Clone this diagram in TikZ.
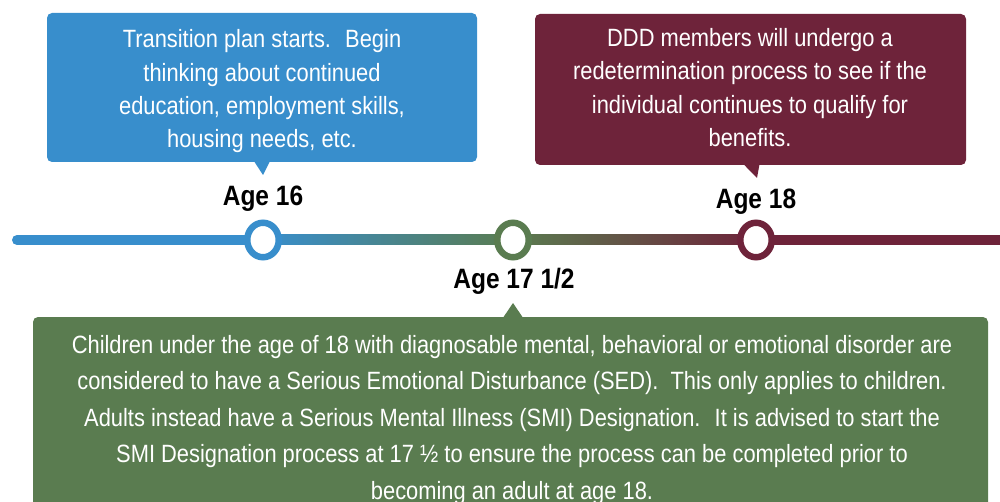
\documentclass[tikz,border=0pt]{standalone}
\usepackage{fontspec}
\setmainfont{Liberation Sans}
\usepackage{graphicx}
\usepackage{tikz}
\usetikzlibrary{shapes.geometric}

\definecolor{blueage}{RGB}{56,142,204}
\definecolor{greenage}{RGB}{90,124,80}
\definecolor{redage}{RGB}{110,35,58}

\newcommand{\squeeze}[1]{\scalebox{0.875}[1]{#1}}

\begin{document}
\begin{tikzpicture}[x=1pt, y=-1pt,
  callout/.style={fill=#1, rounded corners=5pt, inner sep=0pt},
  boxtext/.style={text=white, anchor=base, inner sep=0pt, font=\fontsize{25}{#1}\selectfont},
  agelabel/.style={anchor=base, inner sep=0pt, font=\bfseries\fontsize{28}{30}\selectfont},
  ring/.style={ellipse, draw=#1, fill=white, line width=6.5pt, minimum width=31.5pt, minimum height=34.5pt, inner sep=0pt}]
\useasboundingbox (0,0) rectangle (1000,502);
\clip (0,0) rectangle (1000,502);

\coordinate (start) at (17,240);
\coordinate (end) at (1010,240);
\coordinate (p16) at (263,240);
\coordinate (p17) at (513,240);
\coordinate (p18) at (756,240);

\draw[blueage, line width=10pt, line cap=round] (start) -- (p16);
\shade[left color=blueage, right color=greenage] ([yshift=5pt]p16) rectangle ([yshift=-5pt]p17);
\shade[left color=greenage, right color=redage] ([yshift=5pt]p17) rectangle ([yshift=-5pt]p18);
\draw[redage, line width=10pt] (p18) -- (end);

\node[ring=blueage] (ring16) at (p16) {};
\node[ring=greenage] (ring17) at (p17) {};
\node[ring=redage] (ring18) at (p18) {};

\node[agelabel] (age16) at (263,206) {\squeeze{Age 16}};
\node[agelabel] (age17) at (514,288) {\squeeze{Age 17 1/2}};
\node[agelabel] (age18) at (756,209) {\squeeze{Age 18}};

\node[callout=blueage, minimum width=430pt, minimum height=149pt] (box16) at (262,87.5) {};
\coordinate (tip16) at (263,175);
\fill[blueage] ([xshift=-8pt,yshift=1pt]box16.south) -- (tip16) -- ([xshift=8pt,yshift=1pt]box16.south) -- cycle;
\node[boxtext=33.3] (txt16) at (262,48) {\squeeze{\begin{tabular}[t]{@{}c@{}}
  Transition plan starts.~ Begin\\
  thinking about continued\\
  education, employment skills,\\
  housing needs, etc.\end{tabular}}};

\node[callout=redage, minimum width=431pt, minimum height=151pt] (box18) at (750.5,89.5) {};
\coordinate (tip18) at (757,178);
\fill[redage] ([xshift=-7pt,yshift=1pt]box18.south) -- (tip18) -- ([xshift=9pt,yshift=1pt]box18.south) -- cycle;
\node[boxtext=33.5] (txt18) at (750,46.5) {\squeeze{\begin{tabular}[t]{@{}c@{}}
  DDD members will undergo a\\
  redetermination process to see if the\\
  individual continues to qualify for\\
  benefits.\end{tabular}}};

\node[callout=greenage, minimum width=955pt, minimum height=240pt] (box17) at (510.5,437) {};
\coordinate (tip17) at (513,303);
\fill[greenage] ([xshift=-7.5pt,yshift=-1pt]box17.north) -- (tip17) -- ([xshift=12.5pt,yshift=-1pt]box17.north) -- cycle;
\node[boxtext=36.6] (txt17) at (512,353) {\squeeze{\begin{tabular}[t]{@{}c@{}}
  Children under the age of 18 with diagnosable mental, behavioral or emotional disorder are\\
  considered to have a Serious Emotional Disturbance (SED).~ This only applies to children.\\
  Adults instead have a Serious Mental Illness (SMI) Designation.~ It is advised to start the\\
  SMI Designation process at 17 ½ to ensure the process can be completed prior to\\
  becoming an adult at age 18.\end{tabular}}};
\end{tikzpicture}
\end{document}
